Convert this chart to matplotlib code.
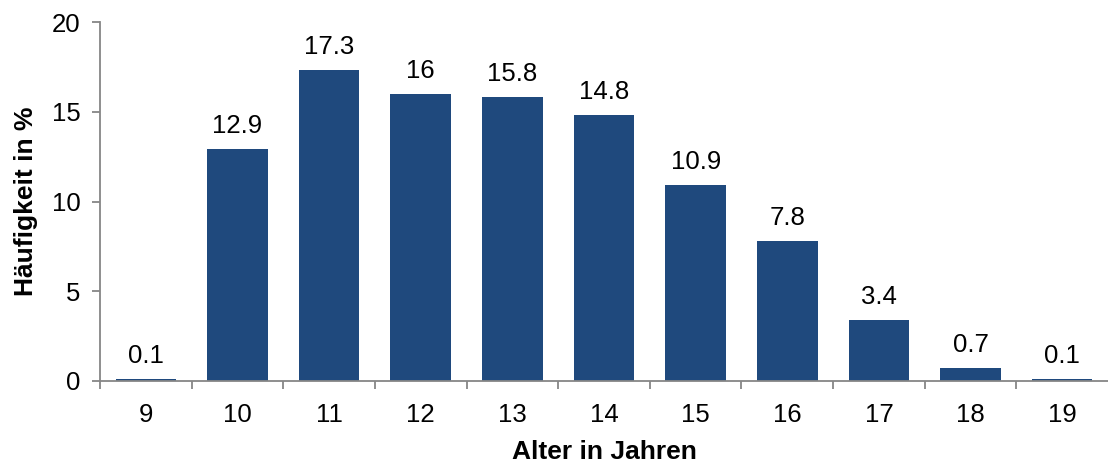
import numpy as np
import matplotlib.pyplot as plt

plt.rcParams['font.family'] = ['Liberation Sans', 'DejaVu Sans']

# age distribution
ages = ['9', '10', '11', '12', '13', '14', '15', '16', '17', '18', '19']
share = [0.1, 12.9, 17.3, 16, 15.8, 14.8, 10.9, 7.8, 3.4, 0.7, 0.1]
yticks = [0, 5, 10, 15, 20]

bar_color = '#1F497D'
axis_color = '#868686'
fs = 18.5

fig = plt.figure(figsize=(11.08, 4.66), dpi=100)
ax = fig.add_axes([100 / 1108, 1 - 381 / 466, 1008 / 1108, 359 / 466])

x = np.arange(len(ages))
bars = ax.bar(x, share, width=0.66, color=bar_color, zorder=2)

for xi, v in zip(x, share):
    ax.annotate(f'{v:g}', (xi, v), xytext=(0, 8), textcoords='offset points',
                ha='center', va='bottom', fontsize=fs)

ax.set_xlim(-0.5, len(ages) - 0.5)
ax.set_ylim(0, 20)
ax.set_yticks(yticks)
ax.set_yticklabels([str(t) for t in yticks], fontsize=fs)

# category labels sit between the boundary ticks
ax.set_xticks(x)
ax.set_xticklabels(ages, fontsize=fs)
ax.tick_params(axis='x', which='major', length=0, pad=16)
ax.set_xticks(np.arange(len(ages)) - 0.5, minor=True)
ax.tick_params(axis='x', which='minor', length=6, color=axis_color, width=1.3)
ax.tick_params(axis='y', length=6, color=axis_color, width=1.3, pad=8)

for side in ['top', 'right']:
    ax.spines[side].set_visible(False)
for side in ['left', 'bottom']:
    ax.spines[side].set_color(axis_color)
    ax.spines[side].set_linewidth(1.3)

ax.set_xlabel('Alter in Jahren', fontsize=19, fontweight='bold', labelpad=9)
ax.set_ylabel('Häufigkeit in %', fontsize=19, fontweight='bold', labelpad=10)

fig.savefig('out.png', dpi=100)
